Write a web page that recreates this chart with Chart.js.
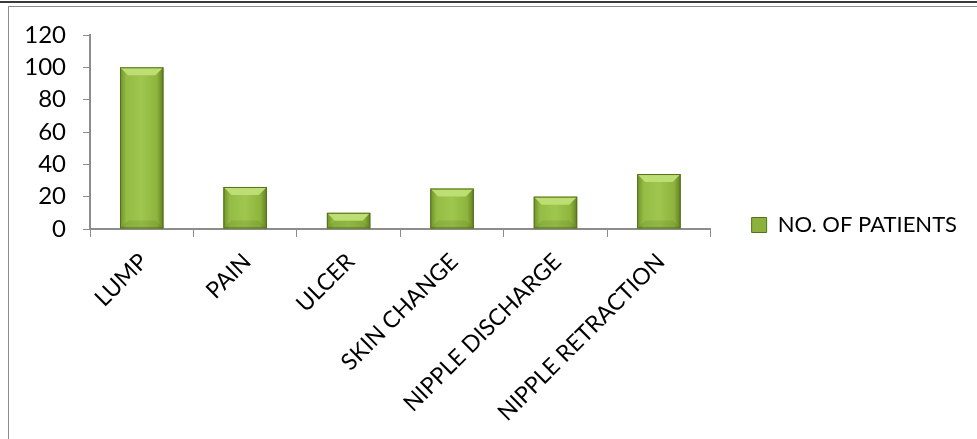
<!DOCTYPE html>
<html>
<head>
<meta charset="utf-8">
<script src="https://cdn.jsdelivr.net/npm/chart.js@4"></script>
<style>
  html, body { margin: 0; padding: 0; background: #fff; overflow: hidden; }
  #wrap { position: relative; width: 977px; height: 439px; }
  #topline { position: absolute; left: 0; top: 1px; width: 977px; height: 0; border-top: 2px solid #3a3a3a; }
  #box { position: absolute; left: 8px; top: 6px; width: 1000px; height: 500px; border: 1px solid #8c8c8c; }
  canvas { position: absolute; left: 0; top: 0; }
</style>
</head>
<body>
<div id="wrap">
  <div id="topline"></div>
  <div id="box"></div>
  <canvas id="chart" width="977" height="439"></canvas>
</div>
<script>
const categories = ['LUMP', 'PAIN', 'ULCER', 'SKIN CHANGE', 'NIPPLE DISCHARGE', 'NIPPLE RETRACTION'];
const patients = [100, 26, 10, 25, 20, 34];
const yTicks = [0, 20, 40, 60, 80, 100, 120];
const seriesName = 'NO. OF PATIENTS';

const FONT = 'Lato, "Open Sans", sans-serif';

// bevelled look of the excel bars, drawn over the bar elements
const bevelPlugin = {
  id: 'bevel',
  afterDatasetsDraw(chart) {
    const ctx = chart.ctx;
    const meta = chart.getDatasetMeta(0);
    meta.data.forEach((bar) => {
      const p = bar.getProps(['x', 'y', 'base', 'width'], true);
      const l = p.x - p.width / 2, r = p.x + p.width / 2;
      const t = p.y, b = p.base;
      const d = Math.min(8, (b - t) / 2);
      ctx.save();
      // face
      let g = ctx.createLinearGradient(l, 0, r, 0);
      g.addColorStop(0, '#6f9128');
      g.addColorStop(0.15, '#95bd46');
      g.addColorStop(0.5, '#9fc64e');
      g.addColorStop(0.85, '#8eb43e');
      g.addColorStop(1, '#627f22');
      ctx.fillStyle = g;
      ctx.fillRect(l, t, r - l, b - t);
      // top bevel
      ctx.beginPath();
      ctx.moveTo(l, t); ctx.lineTo(r, t); ctx.lineTo(r - d, t + d); ctx.lineTo(l + d, t + d); ctx.closePath();
      ctx.fillStyle = '#bcde72';
      ctx.fill();
      // bottom bevel
      ctx.beginPath();
      ctx.moveTo(l, b); ctx.lineTo(r, b); ctx.lineTo(r - d, b - d); ctx.lineTo(l + d, b - d); ctx.closePath();
      ctx.fillStyle = 'rgba(70,95,20,0.15)';
      ctx.fill();
      // outline
      ctx.strokeStyle = '#55711c';
      ctx.lineWidth = 1;
      ctx.strokeRect(l + 0.5, t + 0.5, r - l - 1, b - t - 1);
      ctx.restore();
    });
  }
};

// nudge the legend to where excel put it
const legendShift = {
  id: 'legendShift',
  afterLayout(chart) {
    const lg = chart.legend;
    if (!lg) return;
    lg.left += 31; lg.right += 31;
    lg.top -= 12; lg.bottom -= 12;
  }
};

new Chart(document.getElementById('chart'), {
  type: 'bar',
  data: {
    labels: categories,
    datasets: [{
      label: seriesName,
      data: patients,
      backgroundColor: '#92b944',
      borderColor: '#55711c',
      borderWidth: 1,
      barPercentage: 0.84,
      categoryPercentage: 0.5
    }]
  },
  options: {
    responsive: false,
    animation: false,
    layout: { padding: { left: 0, top: 35, right: 41, bottom: 0 } },
    plugins: {
      tooltip: { enabled: false },
      legend: {
        position: 'right',
        labels: {
          color: '#000',
          font: { family: FONT, size: 22 },
          boxWidth: 15,
          boxHeight: 15,
          padding: 10,
          generateLabels(chart) {
            return [{
              text: seriesName,
              fillStyle: '#8cb23d',
              strokeStyle: '#55711c',
              lineWidth: 1,
              datasetIndex: 0
            }];
          }
        }
      }
    },
    scales: {
      x: {
        afterFit(scale) { scale.height = 210; },
        grid: { display: true, drawOnChartArea: false, drawTicks: true, tickLength: 8, color: '#8c8c8c', offset: true },
        border: { display: true, color: '#8c8c8c', width: 2 },
        ticks: {
          color: '#000',
          font: { family: FONT, size: 23 },
          minRotation: 45,
          maxRotation: 45,
          autoSkip: false,
          padding: 11,
          labelOffset: 2
        }
      },
      y: {
        min: 0,
        max: 120,
        afterFit(scale) { scale.width = 90; },
        afterBuildTicks(scale) { scale.ticks = yTicks.map(v => ({ value: v })); },
        grid: { display: true, drawOnChartArea: false, drawTicks: true, tickLength: 7, color: '#8c8c8c' },
        border: { display: true, color: '#8c8c8c', width: 2 },
        ticks: {
          color: '#000',
          font: { family: FONT, size: 24 },
          padding: 17
        }
      }
    }
  },
  plugins: [bevelPlugin, legendShift]
});
</script>
</body>
</html>
